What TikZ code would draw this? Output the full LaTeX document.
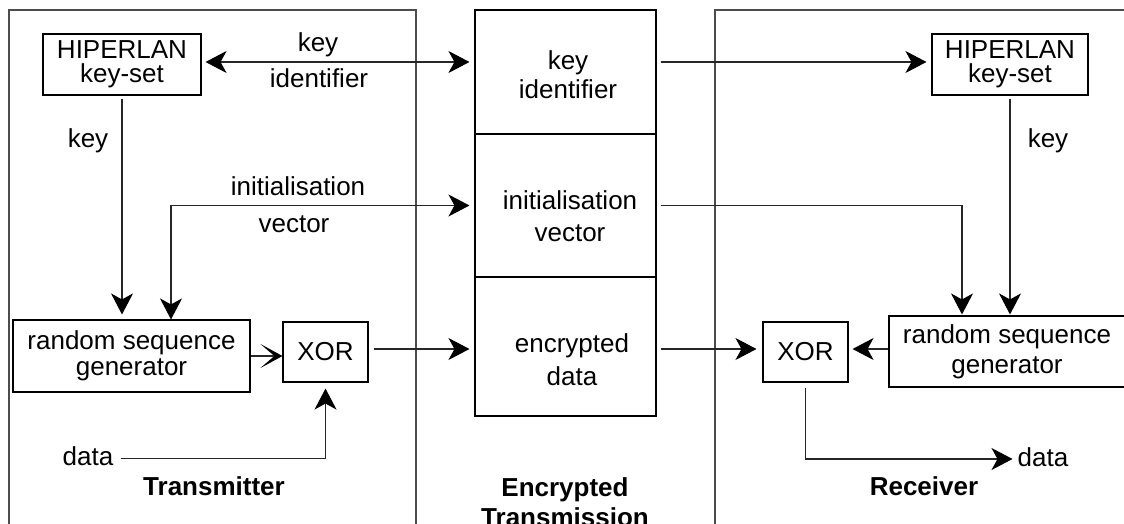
\documentclass[tikz,border=0pt]{standalone}
\usepackage{fontspec}
\setmainfont{Liberation Sans}
\usetikzlibrary{arrows.meta}
\newcommand\dgm[1]{\fontsize{26}{#1}\selectfont}
\begin{document}
\begin{tikzpicture}[x=1pt,y=-1pt,
  >={Stealth[length=21pt,width=22pt,inset=6pt,black]},
  box/.style={draw=black, line width=1.1pt, inner sep=0pt, align=center},
  conn/.style={draw=black!85, line width=1.1pt},
  panel/.style={draw=black!70, line width=1.4pt},
  lab/.style={inner sep=0pt, align=center}]
\useasboundingbox (0,0) rectangle (1124,524);

% panels
\draw[panel] (9,530) -- (9,10) -- (416,10) -- (416,530);
\draw[panel] (715,530) -- (715,10) -- (1130,10);

% centre: encrypted transmission
\node[box, minimum width=181pt, minimum height=124pt] (sec1) at (565.5,72) {};
\node[box, minimum width=181pt, minimum height=143pt] (sec2) at (565.5,205.5) {};
\node[box, minimum width=181pt, minimum height=139pt] (sec3) at (565.5,346.5) {};
\node[lab, font=\dgm{29}] (t1) at (568,75) {key\\identifier};
\node[lab, font=\dgm{32}] (t2) at (570,216.5) {initialisation\\vector};
\node[lab, font=\dgm{33}] (t3) at (572,360) {encrypted\\data};
\node[lab, font=\dgm{30}\bfseries] (tEnc) at (565,502) {Encrypted\\Transmission};

% transmitter
\node[box, font=\dgm{24}, minimum width=158pt, minimum height=61pt] (hlL) at (122,64.5) {HIPERLAN\\key-set};
\node[box, font=\dgm{26}, minimum width=237pt, minimum height=72pt] (rsgL) at (131.5,356) {random sequence\\generator};
\node[box, font=\dgm{26}, minimum width=85pt, minimum height=60pt] (xorL) at (325.5,352) {XOR};
\node[lab, font=\dgm{26}, anchor=base] (lkey) at (88,147) {key};
\node[lab, font=\dgm{26}, anchor=base] (lkid1) at (318,52) {key};
\node[lab, font=\dgm{26}, anchor=base] (lkid2) at (319,88) {identifier};
\node[lab, font=\dgm{26}, anchor=base] (liv1) at (298,195) {initialisation};
\node[lab, font=\dgm{26}, anchor=base] (liv2) at (294,232) {vector};
\node[lab, font=\dgm{26}, anchor=base] (ldataL) at (88,465) {data};
\node[lab, font=\dgm{26}\bfseries, anchor=base] (lTx) at (214,495) {Transmitter};

\draw[conn,<->, shorten <=4pt, shorten >=5pt] ([yshift=2.5pt]hlL.east) -- ([yshift=2.5pt]hlL.east -| sec1.west);
\draw[conn,->, shorten <=3pt, shorten >=5pt] (hlL.south) -- (hlL.south |- rsgL.north);
\coordinate (ivL) at (171,205);
\draw[conn,<->, shorten <=5pt] (sec2.west) -| (ivL |- rsgL.north);
\draw[conn,-{Stealth[length=22pt,width=24pt,inset=14pt,black]}] (rsgL.east) -- (rsgL.east -| xorL.west);
\draw[conn,->, shorten <=5pt, shorten >=5pt] ([yshift=3pt]xorL.east) -- ([yshift=3pt]xorL.east -| sec3.west);
\draw[conn,->, shorten >=6pt] ([xshift=7pt,yshift=-3pt]ldataL.east) -| (xorL.south);

% receiver
\node[box, font=\dgm{24}, minimum width=156pt, minimum height=61pt] (hlR) at (1010,64.5) {HIPERLAN\\key-set};
\node[box, font=\dgm{30}, minimum width=236pt, minimum height=71pt] (rsgR) at (1007,351.5) {random sequence\\generator};
\node[box, font=\dgm{26}, minimum width=85pt, minimum height=60pt] (xorR) at (805.5,352) {XOR};
\node[lab, font=\dgm{26}, anchor=base] (rkey) at (1048,147) {key};
\node[lab, font=\dgm{26}, anchor=base] (ldataR) at (1043,466) {data};
\node[lab, font=\dgm{26}\bfseries, anchor=base] (lRx) at (924,495) {Receiver};

\draw[conn,->, shorten <=4pt, shorten >=5pt] ([yshift=2.5pt]hlR.west -| sec1.east) -- ([yshift=2.5pt]hlR.west);
\draw[conn,->, shorten <=3pt, shorten >=1pt] (hlR.south) -- (hlR.south |- rsgR.north);
\coordinate (ivR) at (962,205);
\draw[conn,->, shorten <=4pt, shorten >=1pt] (sec2.east) -| (ivR |- rsgR.north);
\draw[conn,->, shorten <=4pt, shorten >=6pt] ([yshift=3pt]xorR.west -| sec3.east) -- ([yshift=3pt]xorR.west);
\draw[conn,->, shorten >=4pt] ([yshift=2.5pt]rsgR.west) -- ([yshift=2.5pt]rsgR.west -| xorR.east);
\draw[conn,->, shorten <=5pt, shorten >=5pt] (xorR.south) |- ([yshift=-2.3pt]ldataR.west);
\end{tikzpicture}
\end{document}
